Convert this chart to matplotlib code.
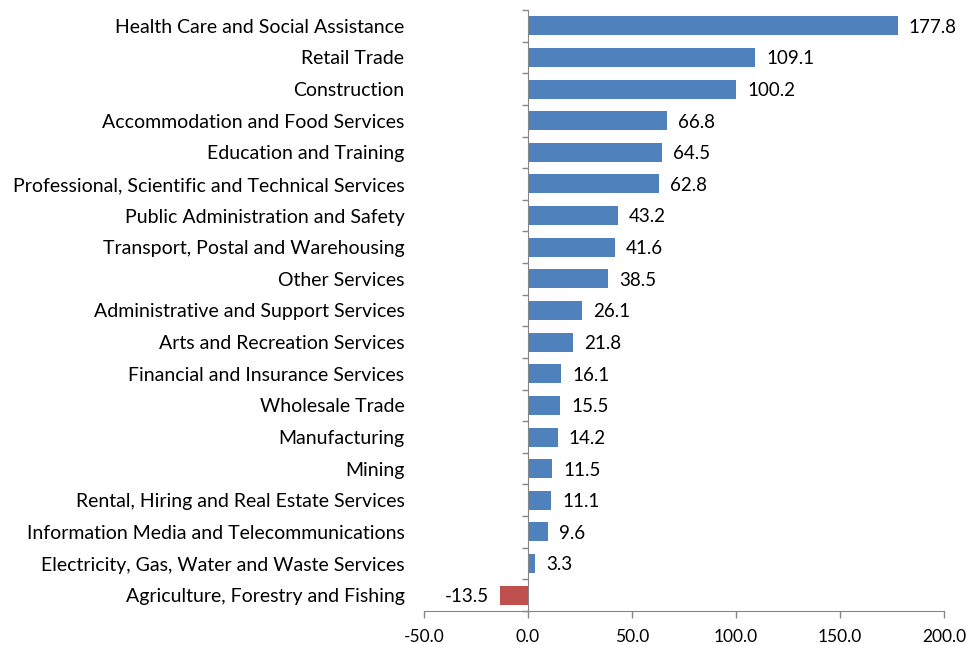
import numpy as np
import matplotlib.pyplot as plt
from matplotlib.ticker import FixedLocator, FormatStrFormatter

plt.rcParams['font.family'] = ['Lato', 'DejaVu Sans']

# 数据
industries = [
    'Health Care and Social Assistance',
    'Retail Trade',
    'Construction',
    'Accommodation and Food Services',
    'Education and Training',
    'Professional, Scientific and Technical Services',
    'Public Administration and Safety',
    'Transport, Postal and Warehousing',
    'Other Services',
    'Administrative and Support Services',
    'Arts and Recreation Services',
    'Financial and Insurance Services',
    'Wholesale Trade',
    'Manufacturing',
    'Mining',
    'Rental, Hiring and Real Estate Services',
    'Information Media and Telecommunications',
    'Electricity, Gas, Water and Waste Services',
    'Agriculture, Forestry and Fishing',
]
change = [177.8, 109.1, 100.2, 66.8, 64.5, 62.8, 43.2, 41.6, 38.5, 26.1,
          21.8, 16.1, 15.5, 14.2, 11.5, 11.1, 9.6, 3.3, -13.5]
x_ticks = [-50, 0, 50, 100, 150, 200]

blue = '#4F81BD'
red = '#C0504D'
grey = '#868686'

fig = plt.figure(figsize=(9.66, 6.45), dpi=100)
ax = fig.add_axes([424 / 966, 1 - 611 / 645, 520 / 966, 601 / 645])

n = len(industries)
ypos = np.arange(n)[::-1]
colors = [blue if v >= 0 else red for v in change]
ax.barh(ypos, change, height=0.6, color=colors, edgecolor='none')

# 数值标签
for y, v in zip(ypos, change):
    if v >= 0:
        ax.annotate(f'{v:.1f}', (v, y), xytext=(8, -1), textcoords='offset points',
                    ha='left', va='center', fontsize=13.5, color='black')
    else:
        ax.annotate(f'{v:.1f}', (v, y), xytext=(-8, -1), textcoords='offset points',
                    ha='right', va='center', fontsize=13.5, color='black')

ax.set_xlim(-50, 200)
ax.set_ylim(-0.5, n - 0.5)
ax.set_xticks(x_ticks)
ax.xaxis.set_major_formatter(FormatStrFormatter('%.1f'))
ax.tick_params(axis='x', direction='out', length=5, color=grey, width=1,
               labelsize=12.5, pad=8)

# y 轴在 0 处
ax.spines['left'].set_position(('data', 0))
ax.spines['left'].set_color(grey)
ax.spines['bottom'].set_color(grey)
ax.spines['top'].set_visible(False)
ax.spines['right'].set_visible(False)

ax.set_yticks(ypos)
ax.set_yticklabels(industries)
ax.yaxis.set_minor_locator(FixedLocator(np.arange(n + 1) - 0.5))
ax.tick_params(axis='y', which='major', length=0, pad=89, labelsize=14)
ax.tick_params(axis='y', which='minor', direction='out', length=4.5,
               color=grey, width=1)

fig.savefig('out.png', dpi=100)
